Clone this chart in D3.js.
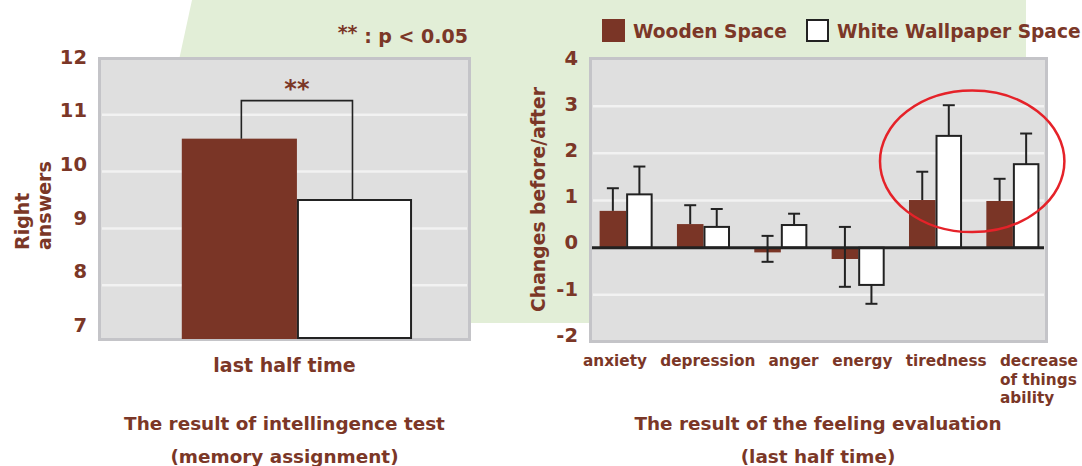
<!DOCTYPE html>
<html lang="en">
<head>
<meta charset="UTF-8">
<title>Wooden space vs white wallpaper space</title>
<script src="https://d3js.org/d3.v7.min.js"></script>
<style>
  body { margin: 0; background: #fff; }
  svg text { font-family: "DejaVu Sans", sans-serif; font-weight: bold; fill: #7b3727; }
</style>
</head>
<body>
<div id="chart"></div>
<script>
// intelligence test (left)
const testGroups = ["last half time"];
const testWooden = [10.58];
const testWhite = [9.5];
const testTicks = [7, 8, 9, 10, 11, 12];
const testGrid = [8, 9, 10, 11];
const sigBracket = 11.25;

// feeling evaluation (right)
const feelings = ["anxiety", "depression", "anger", "energy", "tiredness", "decrease of things ability"];
const feelingLines = [["anxiety"], ["depression"], ["anger"], ["energy"], ["tiredness"], ["decrease", "of things", "ability"]];
const woodenChange = [0.78, 0.50, -0.10, -0.24, 1.01, 0.99];
const whiteChange = [1.13, 0.44, 0.48, -0.79, 2.37, 1.77];
// whisker ends [low, high]
const woodenErr = [[0.78, 1.26], [0.50, 0.90], [-0.30, 0.25], [-0.83, 0.44], [1.01, 1.61], [0.99, 1.46]];
const whiteErr = [[1.13, 1.72], [0.44, 0.82], [0.48, 0.72], [-1.19, -0.79], [2.37, 3.02], [1.77, 2.42]];
const changeTicks = [-2, -1, 0, 1, 2, 3, 4];
const changeGrid = [-1, 1, 2, 3];

const W = 1082, H = 466;
const wood = "#7a3526", ink = "#222", panelFill = "#dfdfdf", panelEdge = "#c4c4c8";

const svg = d3.select("#chart").append("svg")
  .attr("width", W).attr("height", H);

// green backdrop
svg.append("polygon")
  .attr("points", "192,0 1026,0 1026,323 122,323")
  .attr("fill", "#e2eed7");

// ---------- left chart ----------
const yL = d3.scaleLinear().domain([7, 12]).range([342, 58]);
const yLlab = d3.scaleLinear().domain([7, 12]).range([325, 57]);
const xL = d3.scaleBand().domain(testGroups).range([98, 471])
  .paddingInner(0).paddingOuter(0.31).align(0.587);
const xLsub = d3.scaleBand().domain(["wood", "white"]).range([0, xL.bandwidth()]);

svg.append("rect")
  .attr("x", 99.5).attr("y", 58.5).attr("width", 370).attr("height", 281)
  .attr("fill", panelFill).attr("stroke", panelEdge).attr("stroke-width", 3);

svg.append("g").selectAll("line").data(testGrid).join("line")
  .attr("x1", 102).attr("x2", 467)
  .attr("y1", d => yL(d)).attr("y2", d => yL(d))
  .attr("stroke", "#f2f2f2").attr("stroke-width", 2.5);

const gL = svg.append("g");
gL.selectAll("rect.wood").data(testGroups).join("rect")
  .attr("class", "wood")
  .attr("x", d => xL(d) + xLsub("wood"))
  .attr("y", (d, i) => yL(testWooden[i]))
  .attr("width", xLsub.bandwidth())
  .attr("height", (d, i) => yL(7) - 3 - yL(testWooden[i]))
  .attr("fill", wood);
gL.selectAll("rect.white").data(testGroups).join("rect")
  .attr("class", "white")
  .attr("x", d => xL(d) + xLsub("white") + 1)
  .attr("y", (d, i) => yL(testWhite[i]))
  .attr("width", xLsub.bandwidth() - 2)
  .attr("height", (d, i) => yL(7) - 4 - yL(testWhite[i]))
  .attr("fill", "#fff").attr("stroke", ink).attr("stroke-width", 2);

// significance bracket
const bx1 = xL(testGroups[0]) + xLsub("wood") + xLsub.bandwidth() / 2 + 2;
const bx2 = xL(testGroups[0]) + xLsub("white") + xLsub.bandwidth() / 2 - 2;
svg.append("path")
  .attr("d", `M${bx1},${yL(testWooden[0])}V${yL(sigBracket)}H${bx2}V${yL(testWhite[0])}`)
  .attr("fill", "none").attr("stroke", ink).attr("stroke-width", 1.6);
svg.append("text")
  .attr("x", (bx1 + bx2) / 2).attr("y", yL(sigBracket) - 4)
  .attr("text-anchor", "middle").style("font-size", "24px")
  .text("**");

const axL = svg.append("g").attr("transform", "translate(95,0)")
  .call(d3.axisLeft(yLlab).tickValues(testTicks).tickSize(0).tickPadding(8).tickFormat(d => String(d)));
axL.select(".domain").remove();
axL.selectAll("text").style("font-size", "19.5px").style("font-family", "DejaVu Sans").style("font-weight", "bold").attr("fill", "#7b3727");

svg.append("text").attr("transform", "translate(29,250) rotate(-90)")
  .style("font-size", "19px").text("Right");
svg.append("text").attr("transform", "translate(51,250) rotate(-90)")
  .style("font-size", "19px").text("answers");

svg.append("text").attr("x", 284.5).attr("y", 372).attr("text-anchor", "middle")
  .style("font-size", "19px").text(testGroups[0]);

svg.append("text").attr("x", 284.5).attr("y", 430).attr("text-anchor", "middle")
  .style("font-size", "18.4px").text("The result of intellingence test");
svg.append("text").attr("x", 284.5).attr("y", 463).attr("text-anchor", "middle")
  .style("font-size", "18.4px").text("(memory assignment)");

const note = svg.append("text").attr("x", 468).attr("y", 43).attr("text-anchor", "end")
  .style("font-size", "19px");
note.append("tspan").attr("dy", -4).text("**");
note.append("tspan").attr("dy", 4).text(" : p < 0.05");

// ---------- right chart ----------
const yR = d3.scaleLinear().domain([-2, 4]).range([342, 59]);
const yRlab = d3.scaleLinear().domain([-2, 4]).range([335, 58]);
const xR = d3.scaleBand().domain(feelings).range([589, 1050])
  .paddingInner(0.314).paddingOuter(0.137);
const xRsub = d3.scaleBand().domain(["wood", "white"]).range([0, xR.bandwidth()]);

svg.append("rect")
  .attr("x", 590.5).attr("y", 58.5).attr("width", 456).attr("height", 283)
  .attr("fill", panelFill).attr("stroke", panelEdge).attr("stroke-width", 3);

svg.append("g").selectAll("line").data(changeGrid).join("line")
  .attr("x1", 593).attr("x2", 1044)
  .attr("y1", d => yR(d)).attr("y2", d => yR(d))
  .attr("stroke", "#f2f2f2").attr("stroke-width", 2.5);

const rows = feelings.map((f, i) => ({
  f, wood: woodenChange[i], white: whiteChange[i], wErr: woodenErr[i], hErr: whiteErr[i]
}));

const gR = svg.append("g");
gR.selectAll("rect.wood").data(rows).join("rect")
  .attr("class", "wood")
  .attr("x", d => xR(d.f) + xRsub("wood"))
  .attr("y", d => yR(Math.max(0, d.wood)))
  .attr("width", xRsub.bandwidth())
  .attr("height", d => Math.abs(yR(d.wood) - yR(0)))
  .attr("fill", wood);
gR.selectAll("rect.white").data(rows).join("rect")
  .attr("class", "white")
  .attr("x", d => xR(d.f) + xRsub("white") + 1)
  .attr("y", d => yR(Math.max(0, d.white)))
  .attr("width", xRsub.bandwidth() - 2)
  .attr("height", d => Math.abs(yR(d.white) - yR(0)))
  .attr("fill", "#fff").attr("stroke", ink).attr("stroke-width", 2);

function whiskers(key, errKey) {
  const g = svg.append("g").attr("stroke", ink).attr("stroke-width", 2);
  rows.forEach(d => {
    const [lo, hi] = d[errKey];
    const x = xR(d.f) + xRsub(key) + xRsub.bandwidth() / 2;
    g.append("line").attr("x1", x).attr("x2", x).attr("y1", yR(lo)).attr("y2", yR(hi));
    if (hi > d[key])
      g.append("line").attr("x1", x - 6).attr("x2", x + 6).attr("y1", yR(hi)).attr("y2", yR(hi));
    if (lo < d[key])
      g.append("line").attr("x1", x - 6).attr("x2", x + 6).attr("y1", yR(lo)).attr("y2", yR(lo));
  });
}
whiskers("wood", "wErr");
whiskers("white", "hErr");

svg.append("line").attr("x1", 592).attr("x2", 1044)
  .attr("y1", yR(0)).attr("y2", yR(0))
  .attr("stroke", ink).attr("stroke-width", 3);

// highlight ellipse around tiredness / decrease
const ex0 = xR("tiredness"), ex1 = xR(feelings[5]) + xR.bandwidth();
svg.append("ellipse")
  .attr("cx", (ex0 + ex1) / 2 - 2).attr("cy", yR(1.83))
  .attr("rx", (ex1 - ex0) / 2 + 27).attr("ry", (yR(0.33) - yR(3.33)) / 2)
  .attr("fill", "none").attr("stroke", "#e52229").attr("stroke-width", 2.5);

const axR = svg.append("g").attr("transform", "translate(586,0)")
  .call(d3.axisLeft(yRlab).tickValues(changeTicks).tickSize(0).tickPadding(8).tickFormat(d => String(d)));
axR.select(".domain").remove();
axR.selectAll("text").style("font-size", "19.5px").style("font-family", "DejaVu Sans").style("font-weight", "bold").attr("fill", "#7b3727");

// category labels: packed side by side under the panel, equal gaps
const catLab = svg.append("g").selectAll("text").data(feelings).join("text")
  .style("font-size", "15.3px")
  .attr("y", 366);
catLab.each(function (d, i) {
  const t = d3.select(this);
  feelingLines[i].forEach((p, j) => t.append("tspan").attr("x", 0).attr("dy", j ? 18.5 : 0).text(p));
});
const widths = catLab.nodes().map(n => n.getBBox().width);
const left = xR.range()[0] - 6, right = W - 4;
const gap = (right - left - d3.sum(widths)) / (feelings.length - 1);
let cursor = left;
catLab.each(function (d, i) {
  d3.select(this).selectAll("tspan").attr("x", cursor);
  cursor += widths[i] + gap;
});

svg.append("text").attr("transform", "translate(545,312) rotate(-90)")
  .style("font-size", "18.8px").text("Changes before/after");

svg.append("text").attr("x", 818).attr("y", 430).attr("text-anchor", "middle")
  .style("font-size", "18.4px").text("The result of the feeling evaluation");
svg.append("text").attr("x", 818).attr("y", 463).attr("text-anchor", "middle")
  .style("font-size", "18.4px").text("(last half time)");

// legend
const legend = svg.append("g");
legend.append("rect").attr("x", 602).attr("y", 19).attr("width", 23).attr("height", 23).attr("fill", wood);
legend.append("text").attr("x", 633).attr("y", 38).style("font-size", "18.6px").text("Wooden Space");
legend.append("rect").attr("x", 807).attr("y", 20).attr("width", 21).attr("height", 21)
  .attr("fill", "#fff").attr("stroke", ink).attr("stroke-width", 2);
legend.append("text").attr("x", 837).attr("y", 38).style("font-size", "18.6px").text("White Wallpaper Space");
</script>
</body>
</html>
